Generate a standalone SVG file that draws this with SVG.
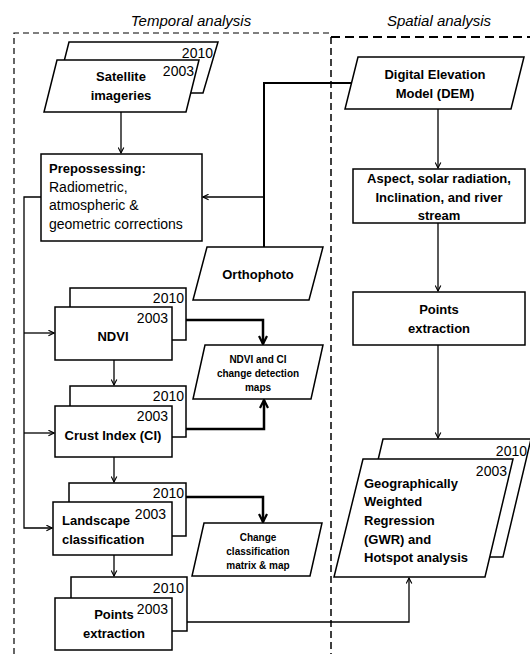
<svg xmlns="http://www.w3.org/2000/svg" width="530" height="654" viewBox="0 0 530 654">
<defs>
<style>
.box{fill:#fff;stroke:#000;stroke-width:1.5}
.b{font-family:"Liberation Sans",Arial,sans-serif;font-weight:bold;font-size:13px;fill:#000}
.r{font-family:"Liberation Sans",Arial,sans-serif;font-size:14px;fill:#000}
.s{font-family:"Liberation Sans",Arial,sans-serif;font-weight:bold;font-size:10px;fill:#000}
.y{font-family:"Liberation Sans",Arial,sans-serif;font-size:14px;fill:#000;text-anchor:end}
.t{font-family:"Liberation Sans",Arial,sans-serif;font-style:italic;font-size:15px;fill:#000;text-anchor:middle}
.c{text-anchor:middle}
.thin{fill:none;stroke:#000;stroke-width:1.3}
.thick{fill:none;stroke:#000;stroke-width:2.5}
</style>
<marker id="a" viewBox="0 0 10 10" refX="9" refY="5" markerWidth="7" markerHeight="7" markerUnits="userSpaceOnUse" orient="auto"><path d="M1,1 L9,5 L1,9" fill="none" stroke="#000" stroke-width="1.6"/></marker>
<marker id="A" viewBox="0 0 10 10" refX="9" refY="5" markerWidth="10" markerHeight="10" markerUnits="userSpaceOnUse" orient="auto"><path d="M1,1 L9,5 L1,9" fill="none" stroke="#000" stroke-width="2.2"/></marker>
</defs>

<g id="frames">
<path d="M14,654 V33 H331" fill="none" stroke="#000" stroke-width="1.2" stroke-dasharray="6,4"/>
<path d="M331,37 V654" fill="none" stroke="#000" stroke-width="1.5" stroke-dasharray="7,4"/>
<path d="M331,37 H530" fill="none" stroke="#000" stroke-width="2" stroke-dasharray="9,5"/>
<text class="t" x="191" y="26">Temporal analysis</text>
<text class="t" x="439" y="26">Spatial analysis</text>
</g>

<g id="connectors">
<path class="thin" d="M121,112 V153" marker-end="url(#a)"/>
<path class="thick" d="M351,83 H264 V247" style="stroke-width:2"/>
<path class="thin" d="M264,197 H203" marker-end="url(#a)"/>
<path class="thin" d="M41,197 H24 V528 H52" marker-end="url(#a)"/>
<path class="thin" d="M24,333 H54" marker-end="url(#a)"/>
<path class="thin" d="M24,433 H54" marker-end="url(#a)"/>
<path class="thin" d="M114,360 V385" marker-end="url(#a)"/>
<path class="thin" d="M114,457 V482" marker-end="url(#a)"/>
<path class="thin" d="M114,555 V576" marker-end="url(#a)"/>
<path class="thick" d="M186,320 H263 V344" marker-end="url(#A)"/>
<path class="thick" d="M186,429 H264 V400" marker-end="url(#A)"/>
<path class="thick" d="M186,497 H263 V522" marker-end="url(#A)"/>
<path class="thin" d="M187,622 H409 V578" marker-end="url(#a)"/>
<path class="thin" d="M438,109 V168" marker-end="url(#a)"/>
<path class="thin" d="M438,223 V291" marker-end="url(#a)"/>
<path class="thin" d="M438,345 V438" marker-end="url(#a)"/>
</g>

<g id="satellite">
<polygon class="box" points="69,42 218,42 203,93 56,93"/>
<text class="y" x="213" y="58">2010</text>
<polygon class="box" points="57,60 199,60 186,112 44,112"/>
<text class="y" x="194" y="76">2003</text>
<text class="b c" x="121" y="81">Satellite</text>
<text class="b c" x="121" y="100">imageries</text>
</g>

<g id="preprocessing">
<rect class="box" x="41" y="154" width="161" height="87"/>
<text class="b" x="49" y="173">Prepossessing:</text>
<text class="r" x="49" y="192">Radiometric,</text>
<text class="r" x="49" y="210">atmospheric &amp;</text>
<text class="r" x="49" y="229">geometric corrections</text>
</g>

<g id="orthophoto">
<polygon class="box" points="207,247 323,247 309,300 193,300"/>
<text class="b c" x="258" y="279">Orthophoto</text>
</g>

<g id="ndvi">
<rect class="box" x="70" y="288" width="116" height="52"/>
<text class="y" x="184" y="303">2010</text>
<rect class="box" x="55" y="307" width="117" height="53"/>
<text class="y" x="168" y="323">2003</text>
<text class="b c" x="113" y="341">NDVI</text>
</g>

<g id="changemaps">
<polygon class="box" points="205,345 323,345 311,399 193,399"/>
<text class="s c" x="258" y="363">NDVI and CI</text>
<text class="s c" x="258" y="377">change detection</text>
<text class="s c" x="258" y="391">maps</text>
</g>

<g id="crust">
<rect class="box" x="70" y="386" width="116" height="51"/>
<text class="y" x="184" y="401">2010</text>
<rect class="box" x="55" y="406" width="117" height="51"/>
<text class="y" x="168" y="421">2003</text>
<text class="b c" x="113" y="440">Crust Index (CI)</text>
</g>

<g id="landscape">
<rect class="box" x="69" y="483" width="117" height="53"/>
<text class="y" x="184" y="498">2010</text>
<rect class="box" x="53" y="502" width="119" height="53"/>
<text class="y" x="166" y="519">2003</text>
<text class="b" x="62" y="525">Landscape</text>
<text class="b" x="62" y="544">classification</text>
</g>

<g id="changeclass">
<polygon class="box" points="204,523 322,523 310,576 192,576"/>
<text class="s c" x="258" y="541">Change</text>
<text class="s c" x="258" y="555">classification</text>
<text class="s c" x="258" y="569">matrix &amp; map</text>
</g>

<g id="points-left">
<rect class="box" x="71" y="577" width="116" height="54"/>
<text class="y" x="184" y="593">2010</text>
<rect class="box" x="55" y="598" width="117" height="52"/>
<text class="y" x="168" y="614">2003</text>
<text class="b c" x="114" y="619">Points</text>
<text class="b c" x="114" y="638">extraction</text>
</g>

<g id="dem">
<polygon class="box" points="358,57 524,57 511,109 345,109"/>
<text class="b c" x="435" y="79">Digital Elevation</text>
<text class="b c" x="435" y="98">Model (DEM)</text>
</g>

<g id="aspect">
<rect class="box" x="353" y="169" width="172" height="54"/>
<text class="b c" x="439" y="183">Aspect, solar radiation,</text>
<text class="b c" x="439" y="202">Inclination, and river</text>
<text class="b c" x="439" y="220">stream</text>
</g>

<g id="points-right">
<rect class="box" x="353" y="292" width="172" height="53"/>
<text class="b c" x="439" y="314">Points</text>
<text class="b c" x="439" y="333">extraction</text>
</g>

<g id="gwr">
<polygon class="box" points="383,439 531,439 503,557 355,557"/>
<text class="y" x="527" y="456">2010</text>
<polygon class="box" points="363,459 513,459 485,577 334,577"/>
<text class="y" x="507" y="476">2003</text>
<text class="b" x="364" y="488">Geographically</text>
<text class="b" x="364" y="506">Weighted</text>
<text class="b" x="364" y="525">Regression</text>
<text class="b" x="364" y="544">(GWR) and</text>
<text class="b" x="364" y="562">Hotspot analysis</text>
</g>
</svg>
